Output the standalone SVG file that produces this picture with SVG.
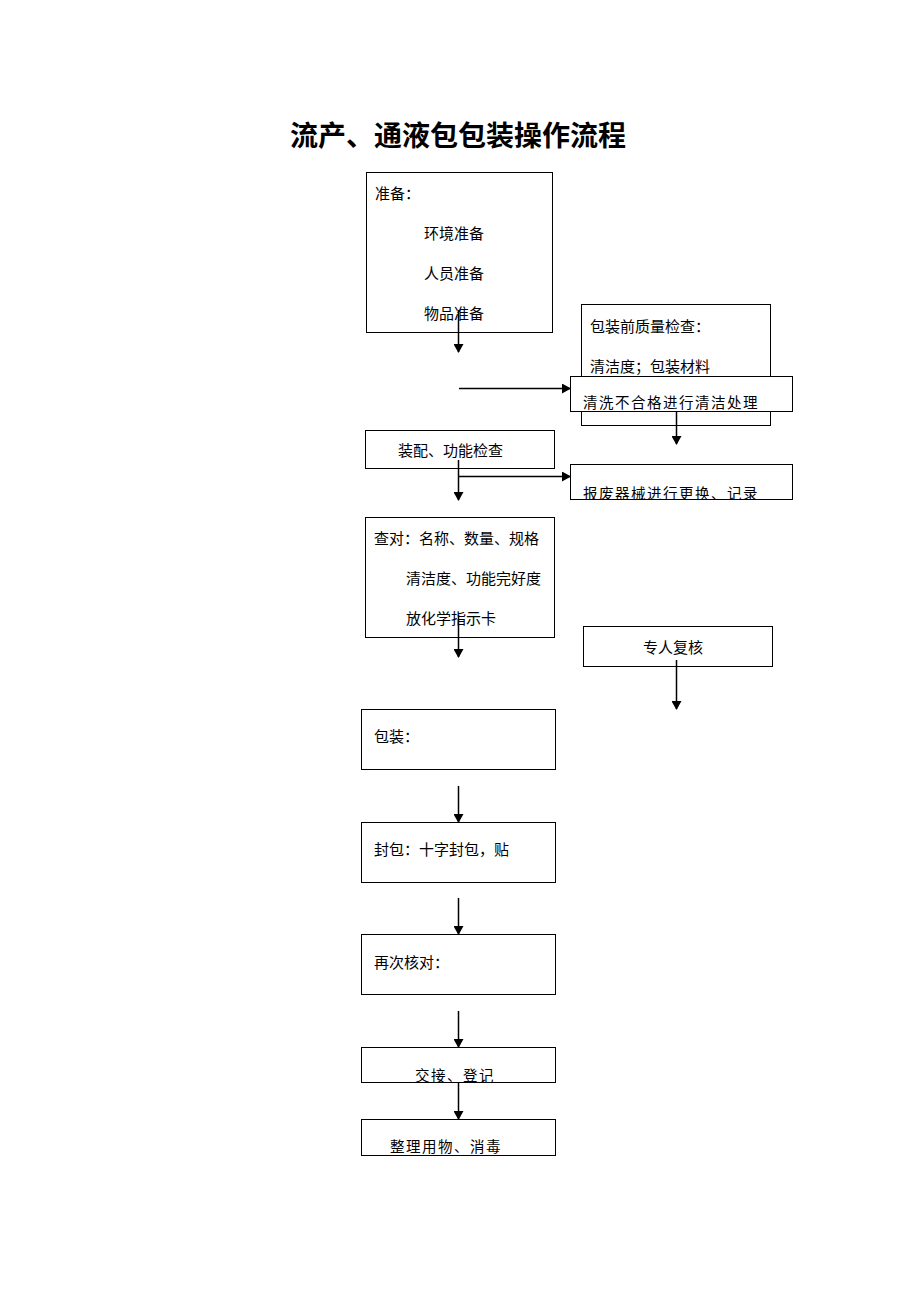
<svg xmlns="http://www.w3.org/2000/svg" width="920" height="1302" viewBox="0 0 920 1302">
<style>
.b{fill:#fff;stroke:#000;stroke-width:1}
.t{font-family:"Noto Sans CJK SC","Noto Sans",sans-serif;font-size:15px;fill:#000}
.s{font-family:"Noto Sans CJK SC","Noto Sans",sans-serif;font-size:14.5px;letter-spacing:1.5px;fill:#000}
.c{stroke:#000;stroke-width:1.5;fill:none;marker-end:url(#a)}
</style>
<defs>
<marker id="a" markerWidth="10" markerHeight="10" refX="8" refY="5" orient="auto" markerUnits="userSpaceOnUse">
<path d="M0,0 L9,5 L0,10 Z" fill="#000"/>
</marker>
<clipPath id="k1"><rect x="570" y="464" width="223" height="36"/></clipPath>
<clipPath id="k2"><rect x="361" y="1047" width="195" height="36"/></clipPath>
<clipPath id="k3"><rect x="361" y="1119" width="195" height="37"/></clipPath>
</defs>
<rect width="920" height="1302" fill="#fff"/>
<text x="458" y="146" text-anchor="middle" font-family="'Noto Sans CJK SC',sans-serif" font-size="28" font-weight="bold">流产、通液包包装操作流程</text>

<g id="n1"><rect class="b" x="366.5" y="172.5" width="186" height="160"/>
<text class="t" x="375" y="199">准备：</text>
<text class="t" x="424" y="239">环境准备</text>
<text class="t" x="424" y="279">人员准备</text>
<text class="t" x="424" y="319">物品准备</text></g>

<g id="n2"><rect class="b" x="581.5" y="304.5" width="189" height="121"/>
<text class="t" x="590" y="332">包装前质量检查：</text>
<text class="t" x="590" y="372">清洁度；包装材料</text></g>

<g id="n3"><rect class="b" x="570.5" y="376.5" width="222" height="35"/>
<text class="s" x="583" y="408">清洗不合格进行清洁处理</text></g>

<g id="n4"><rect class="b" x="365.5" y="430.5" width="189" height="38"/>
<text class="t" x="398" y="456">装配、功能检查</text></g>

<g id="n5"><rect class="b" x="570.5" y="464.5" width="222" height="35"/>
<text class="s" x="583" y="499" clip-path="url(#k1)">报废器械进行更换、记录</text></g>

<g id="n6"><rect class="b" x="365.5" y="517.5" width="189" height="120"/>
<text class="t" x="374" y="544">查对：名称、数量、规格</text>
<text class="t" x="406" y="584">清洁度、功能完好度</text>
<text class="t" x="406" y="624">放化学指示卡</text></g>

<g id="n7"><rect class="b" x="583.5" y="626.5" width="189" height="40"/>
<text class="t" x="673" y="653" text-anchor="middle">专人复核</text></g>

<g id="n8"><rect class="b" x="361.5" y="709.5" width="194" height="60"/>
<text class="t" x="374" y="742">包装：</text></g>

<g id="n9"><rect class="b" x="361.5" y="822.5" width="194" height="60"/>
<text class="t" x="374" y="855">封包：十字封包，贴</text></g>

<g id="n10"><rect class="b" x="361.5" y="934.5" width="194" height="60"/>
<text class="t" x="374" y="968">再次核对：</text></g>

<g id="n11"><rect class="b" x="361.5" y="1047.5" width="194" height="35"/>
<text class="s" x="415" y="1081" clip-path="url(#k2)">交接、登记</text></g>

<g id="n12"><rect class="b" x="361.5" y="1119.5" width="194" height="36"/>
<text class="s" x="390" y="1152" clip-path="url(#k3)">整理用物、消毒</text></g>

<g id="connectors">
<line class="c" x1="458.5" y1="310" x2="458.5" y2="352"/>
<line class="c" x1="459" y1="388.5" x2="570" y2="388.5"/>
<line class="c" x1="676.5" y1="412" x2="676.5" y2="444"/>
<line class="c" x1="458.5" y1="460" x2="458.5" y2="500"/>
<line class="c" x1="459" y1="476.5" x2="570" y2="476.5"/>
<line class="c" x1="458.5" y1="615" x2="458.5" y2="657"/>
<line class="c" x1="676.5" y1="660" x2="676.5" y2="709"/>
<line class="c" x1="458.5" y1="786" x2="458.5" y2="822"/>
<line class="c" x1="458.5" y1="898" x2="458.5" y2="934"/>
<line class="c" x1="458.5" y1="1011" x2="458.5" y2="1047"/>
<line class="c" x1="458.5" y1="1083" x2="458.5" y2="1119"/>
</g>
</svg>
